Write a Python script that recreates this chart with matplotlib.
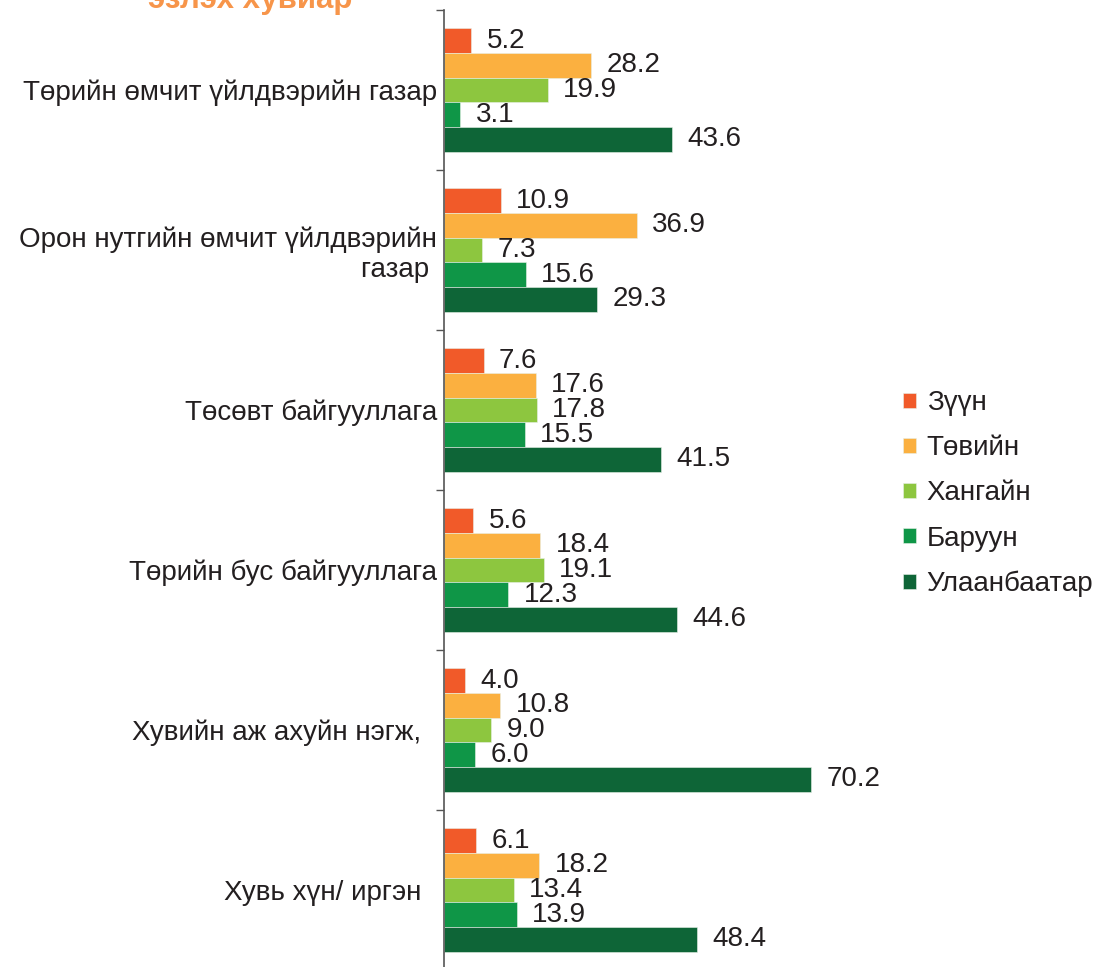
import matplotlib
matplotlib.use("Agg")
import matplotlib.pyplot as plt
import numpy as np

plt.rcParams['font.family'] = ['Liberation Sans', 'DejaVu Sans']

categories = [
    "Төрийн өмчит үйлдвэрийн газар",
    "Орон нутгийн өмчит үйлдвэрийн\nгазар ",
    "Төсөвт байгууллага",
    "Төрийн бус байгууллага",
    "Хувийн аж ахуйн нэгж,  ",
    "Хувь хүн/ иргэн  ",
]
series_names = ["Зүүн", "Төвийн", "Хангайн", "Баруун", "Улаанбаатар"]
zuun = [5.2, 10.9, 7.6, 5.6, 4.0, 6.1]
tuviin = [28.2, 36.9, 17.6, 18.4, 10.8, 18.2]
khangai = [19.9, 7.3, 17.8, 19.1, 9.0, 13.4]
baruun = [3.1, 15.6, 15.5, 12.3, 6.0, 13.9]
ulaanbaatar = [43.6, 29.3, 41.5, 44.6, 70.2, 48.4]
series_values = [zuun, tuviin, khangai, baruun, ulaanbaatar]
colors = ["#F15A29", "#FBB040", "#8DC63F", "#0F9647", "#0E6537"]
title_text = "эзлэх хувиар"

fig = plt.figure(figsize=(10.95, 9.67), dpi=100)
ax = fig.add_axes([444/1095, 1 - 970/967, (880-444)/1095, 960/967])

y = np.arange(len(categories))
h = 0.154
for i, (name, vals, c) in enumerate(zip(series_names, series_values, colors)):
    pos = y + (i - 2) * h
    ax.barh(pos, vals, height=h, color=c, edgecolor='#e8f0e8', linewidth=0.4, label=name)
    for p, v in zip(pos, vals):
        ax.annotate(f"{v:.1f}", xy=(v, p), xytext=(11, 0), textcoords='offset points',
                    ha='left', va='center', fontsize=20, color='#231F20')

ax.set_ylim(len(categories) - 0.5, -0.5)
ax.set_xlim(0, 436/5.23)
ax.set_yticks(y)
ax.set_yticklabels(categories, fontsize=20, color='#231F20', ha='right')
ax.tick_params(axis='y', which='major', length=0, pad=5)
ax.set_yticks(np.arange(-0.5, len(categories) + 0.5, 1), minor=True)
ax.tick_params(axis='y', which='minor', length=6, width=1, color='#555555', direction='out')
ax.set_xticks([])
for s in ['top', 'right', 'bottom']:
    ax.spines[s].set_visible(False)
ax.spines['left'].set_color('#555555')
ax.spines['left'].set_linewidth(1.2)

leg = fig.legend(loc='upper left', bbox_to_anchor=(878/1095, 1 - 365/967), frameon=False,
                 fontsize=20, handlelength=0.45, handleheight=0.45, handletextpad=0.4,
                 labelspacing=0.69, labelcolor='#231F20')

fig.text(250/1095, 1 - 8/967, title_text, ha='center', va='baseline', fontsize=22.5,
         fontweight='bold', color='#F7954A')

fig.savefig("out.png", dpi=100)
